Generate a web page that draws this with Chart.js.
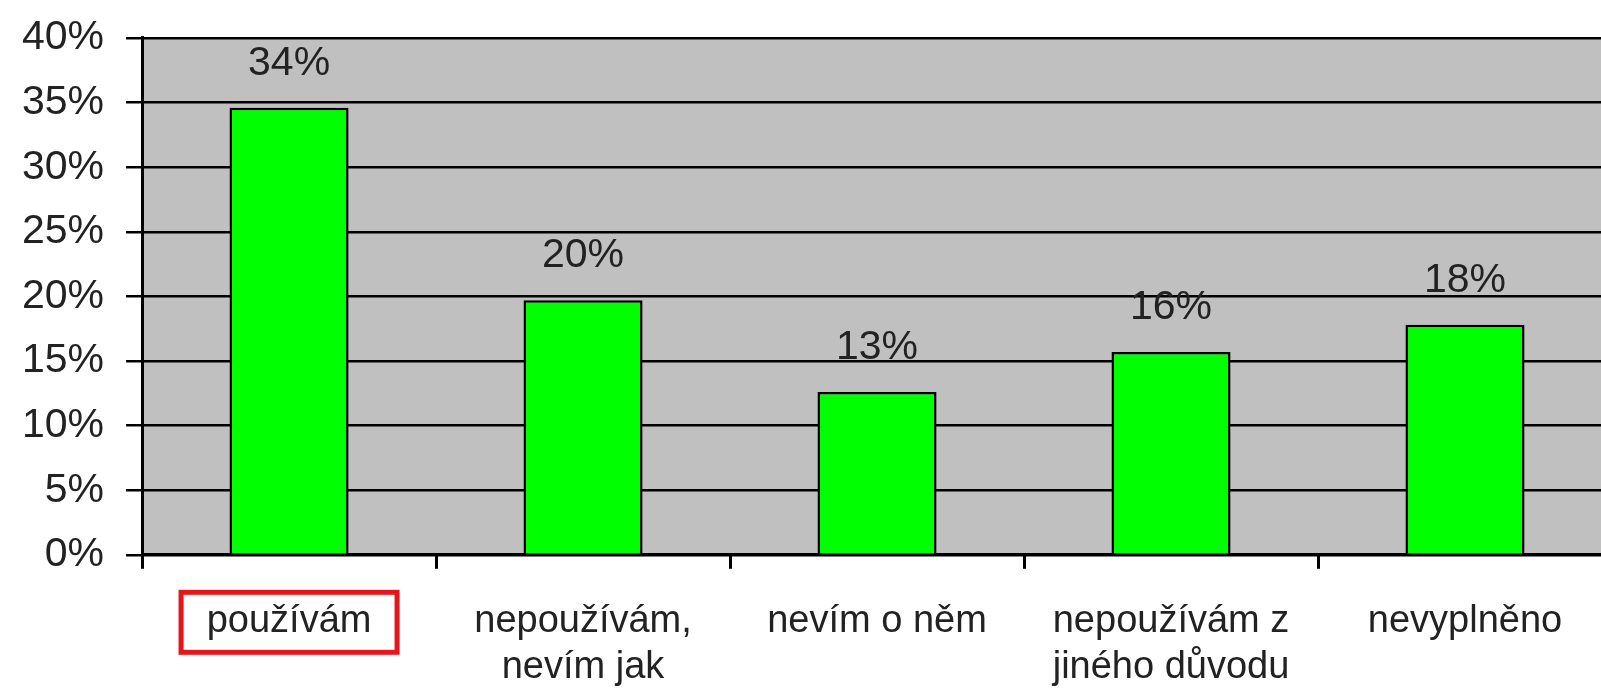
<!DOCTYPE html>
<html>
<head>
<meta charset="utf-8">
<script src="https://cdn.jsdelivr.net/npm/chart.js@4"></script>
<style>
  html, body { margin: 0; padding: 0; background: #fff; overflow: hidden; }
  #wrap { width: 1612px; height: 694px; }
</style>
</head>
<body>
<div id="wrap"><canvas id="chartPouziti"></canvas></div>
<script>
// ----------------- Data -----------------//
const categories = ['používám', ['nepoužívám,', 'nevím jak'], 'nevím o něm', ['nepoužívám z', 'jiného důvodu'], 'nevyplněno'];
const values = [34.6, 19.7, 12.6, 15.7, 17.8];
const valueLabels = ['34%', '20%', '13%', '16%', '18%'];
const yTicks = [0, 5, 10, 15, 20, 25, 30, 35, 40];

const fontFamily = '"Liberation Sans", Arial, sans-serif';
const textColor = '#222';

// fond gris de la zone de tracé
const plotBackground = {
    id: 'plotBackground',
    beforeDraw(chart) {
        const { ctx, chartArea } = chart;
        ctx.save();
        ctx.fillStyle = '#c0c0c0';
        ctx.fillRect(chartArea.left, chartArea.top, chartArea.right - chartArea.left, chartArea.bottom - chartArea.top);
        ctx.restore();
    }
};

// étiquettes au-dessus des barres
const barLabels = {
    id: 'barLabels',
    afterDatasetsDraw(chart) {
        const { ctx } = chart;
        const meta = chart.getDatasetMeta(0);
        ctx.save();
        ctx.font = '41px ' + fontFamily;
        ctx.fillStyle = textColor;
        ctx.textAlign = 'center';
        ctx.textBaseline = 'alphabetic';
        meta.data.forEach((bar, i) => {
            ctx.fillText(valueLabels[i], bar.x, bar.y - 33);
        });
        ctx.restore();
    }
};

// cadre rouge autour de la première catégorie
const redBox = {
    id: 'redBox',
    afterDraw(chart) {
        const { ctx } = chart;
        const xScale = chart.scales.x;
        const cx = xScale.getPixelForValue(0);
        ctx.save();
        ctx.strokeStyle = '#e8141b';
        ctx.lineWidth = 5;
        ctx.strokeRect(cx - 108, xScale.top + 37.5, 216, 60);
        ctx.restore();
    }
};

const ctx = document.getElementById('chartPouziti').getContext('2d');
new Chart(ctx, {
    type: 'bar',
    data: {
        labels: categories,
        datasets: [{
            data: values,
            backgroundColor: '#00ff00',
            borderColor: '#000',
            borderWidth: 2.5,
            barPercentage: 0.405,
            categoryPercentage: 1
        }]
    },
    options: {
        responsive: true,
        maintainAspectRatio: false,
        animation: false,
        layout: { padding: { top: 0, left: 0, right: 0, bottom: -26 } },
        plugins: {
            legend: { display: false },
            tooltip: { enabled: false }
        },
        scales: {
            x: {
                grid: {
                    offset: true,
                    drawOnChartArea: false,
                    drawTicks: true,
                    tickLength: 14,
                    color: '#000',
                    lineWidth: 3
                },
                border: { color: '#000', width: 3 },
                ticks: {
                    color: textColor,
                    font: { family: fontFamily, size: 38, lineHeight: 1.2 },
                    padding: 30,
                    maxRotation: 0,
                    autoSkip: false
                }
            },
            y: {
                min: 0,
                max: 40,
                afterBuildTicks(axis) {
                    axis.ticks = yTicks.map(v => ({ value: v }));
                },
                grid: {
                    color: '#000',
                    lineWidth: 2.5,
                    drawTicks: true,
                    tickLength: 16
                },
                border: { color: '#000', width: 3 },
                ticks: {
                    color: textColor,
                    font: { family: fontFamily, size: 41, lineHeight: 0.78 },
                    padding: 22,
                    callback: v => v + '%'
                }
            }
        }
    },
    plugins: [plotBackground, barLabels, redBox]
});
</script>
</body>
</html>
